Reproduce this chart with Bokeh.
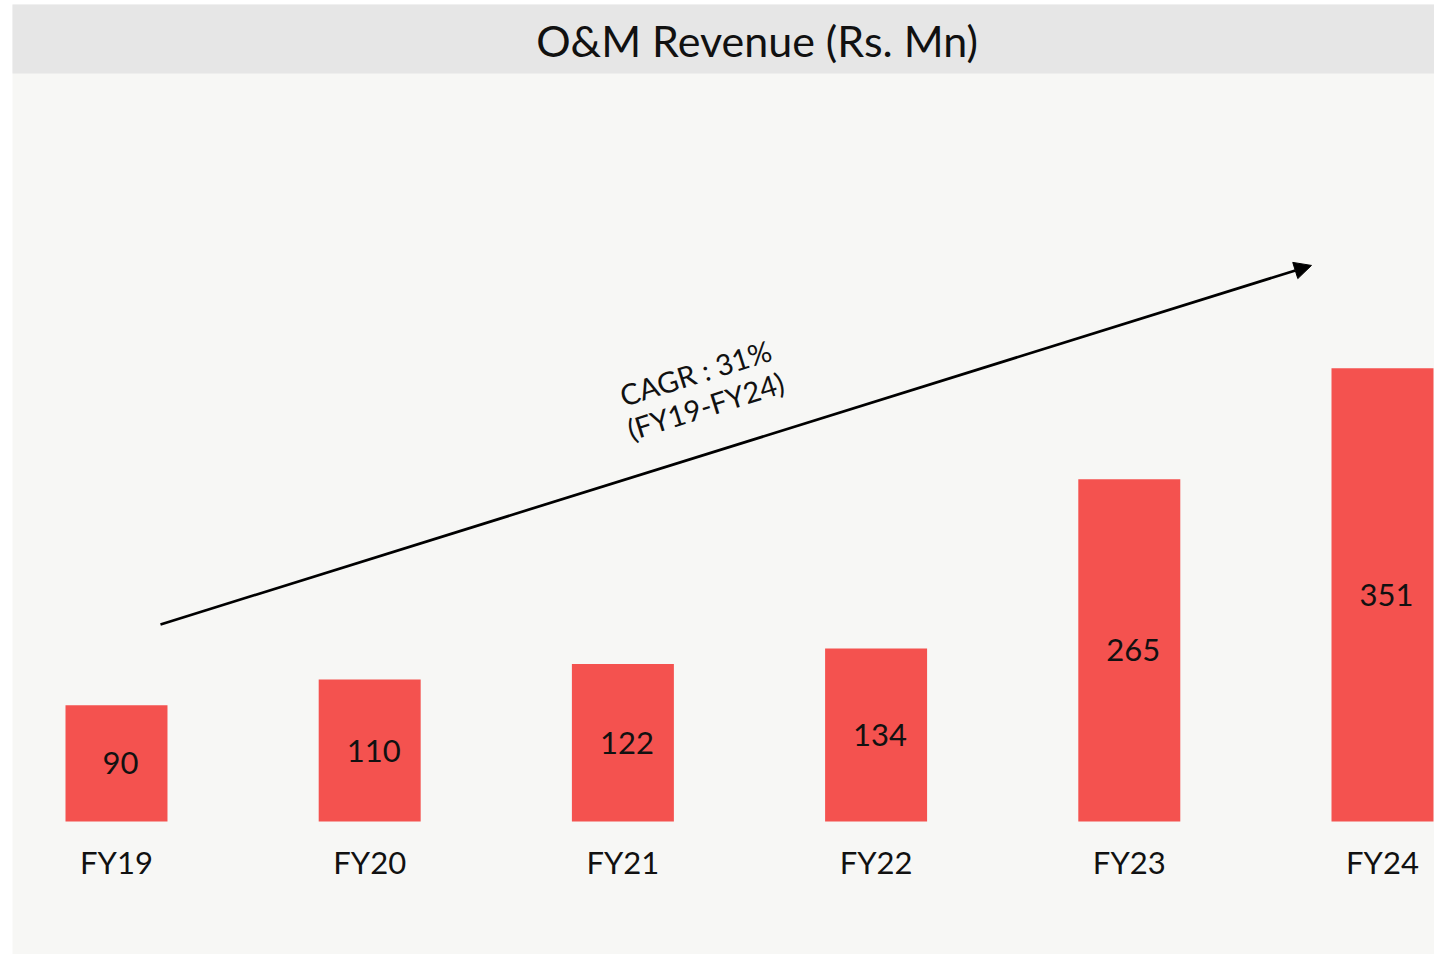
from bokeh.plotting import figure
from bokeh.models import Range1d, BoxAnnotation, Label, Arrow, NormalHead, ColumnDataSource
from bokeh.core.properties import value
from bokeh.embed import file_html
from bokeh.resources import INLINE
import math

years = ["FY19", "FY20", "FY21", "FY22", "FY23", "FY24"]
revenue = [90, 110, 122, 134, 265, 351]
title_text = "O&M Revenue (Rs. Mn)"
cagr_line1 = "CAGR : 31%"
cagr_line2 = "(FY19-FY24)"

FONT = "Lato"
BG = "#f7f7f5"
TITLE_BG = "#e6e6e6"
BAR = "#f4524f"
INK = "#111111"

xs = list(range(len(years)))
source = ColumnDataSource(dict(
    x=xs,
    top=revenue,
    mid=[v / 2 for v in revenue],
    label=[str(v) for v in revenue],
    cat=years,
))

p = figure(width=1434, height=954, output_backend="svg", toolbar_location=None,
           x_range=Range1d(-0.4581, 5.2054), y_range=Range1d(-103.0, 635.9),
           x_axis_location=None, y_axis_location=None,
           min_border_left=0, min_border_right=0, min_border_top=0, min_border_bottom=0)
p.background_fill_color = "white"
p.border_fill_color = "white"
p.outline_line_color = None
p.grid.visible = False

# chart panel and title bar
p.add_layout(BoxAnnotation(left=-0.4107, top=632.8, fill_color=BG, fill_alpha=1.0,
                           line_color=None, level="underlay"))
p.add_layout(BoxAnnotation(left=-0.4107, bottom=579.4, top=632.8, fill_color=TITLE_BG, fill_alpha=1.0,
                           line_color=None, level="underlay"))
p.add_layout(Label(x=2.53, y=605.0, text=title_text, text_align="center", text_baseline="middle",
                   text_font=FONT, text_font_size="43px", text_color=INK))

# bars + value labels
p.vbar(x="x", top="top", bottom=0, width=0.4028, source=source, fill_color=BAR, line_color=None)
p.text(x="x", y="mid", text="label", source=source, text_align="center", text_baseline="middle",
       x_offset=4, text_font=value(FONT), text_font_size="31px", text_color=INK)

# category labels
p.text(x="x", y=-31.4, text="cat", source=source, text_align="center", text_baseline="middle",
       text_font=value(FONT), text_font_size="31px", text_color=INK)

# CAGR arrow
p.add_layout(Arrow(end=NormalHead(size=17, fill_color="black", line_color="black"),
                   x_start=0.1738, y_start=152.6, x_end=4.7196, y_end=430.7,
                   line_width=2.7, line_color="black"))
ang = math.radians(17.4)
p.add_layout(Label(x=2.2867, y=347.8, text=cagr_line1, angle=ang, text_align="center", text_baseline="middle",
                   text_font=FONT, text_font_size="29px", text_color=INK))
p.add_layout(Label(x=2.3262, y=322.2, text=cagr_line2, angle=ang, text_align="center", text_baseline="middle",
                   text_font=FONT, text_font_size="29px", text_color=INK))

open("out.html", "w").write(file_html(p, INLINE))
